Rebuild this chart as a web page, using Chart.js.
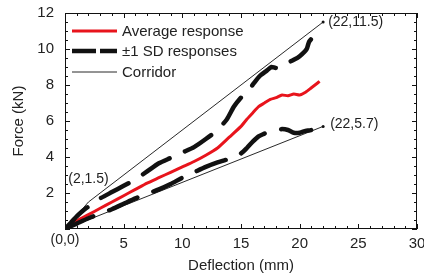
<!DOCTYPE html>
<html>
<head>
<meta charset="utf-8">
<script src="https://cdn.jsdelivr.net/npm/chart.js@4/dist/chart.umd.min.js"></script>
<style>
html,body{margin:0;padding:0;background:#fff;}
#wrap{width:424px;height:277px;position:relative;}
</style>
</head>
<body>
<div id="wrap"><canvas id="c" width="424" height="277"></canvas></div>
<script>
// ---- data ----
const avgX = [0,1,2,3,4,5,6,7,8,9,10,11,12,13,14,15,15.5,16,16.5,17,17.5,18,18.5,19,19.5,20,20.5,21,21.5,21.7];
const avgY = [0,0.45,0.8,1.15,1.5,1.85,2.2,2.55,2.85,3.15,3.45,3.75,4.1,4.5,5.1,5.7,6.1,6.45,6.8,7.0,7.2,7.3,7.45,7.4,7.5,7.45,7.6,7.85,8.1,8.2];

const upX = [0,0.5,1,1.5,2,2.5,3,4,5,6,7,8,9,10,11,12,13,13.8,14.4,15,15.5,16.1,16.6,17.2,17.6,18,18.5,19,19.5,20,20.6,20.8,21.2,21.6];
const upY = [0,0.35,0.7,1.0,1.25,1.45,1.7,2.05,2.4,2.75,3.2,3.65,3.95,4.25,4.55,5.0,5.5,6.1,6.8,7.3,7.6,8.1,8.5,8.8,9.0,8.95,9.2,9.25,9.4,9.6,10.0,10.4,10.7,10.9];

const loX = [0,1,2,3,4,5,6,7,8,9,10,11,12,13,14,15,15.5,16,16.5,17,17.5,18,18.5,19,19.5,20,20.5,21,21.5,22];
const loY = [0,0.3,0.6,0.85,1.1,1.4,1.7,1.95,2.2,2.5,2.85,3.15,3.45,3.7,3.9,4.2,4.5,4.85,5.15,5.3,5.45,5.5,5.55,5.5,5.35,5.35,5.45,5.5,5.65,5.85];

const corrUpX = [0,2,22];
const corrUpY = [0,1.5,11.5];
const corrLoX = [0,22];
const corrLoY = [0,5.7];

const xTicks = [5,10,15,20,25,30];
const yTicks = [2,4,6,8,10,12];
const legendLabels = ['Average response','\u00b11 SD responses','Corridor'];
const xTitle = 'Deflection (mm)';
const yTitle = 'Force (kN)';

const pts = (xs, ys) => xs.map((x,i)=>({x:x,y:ys[i]}));
const FONT = '"Liberation Sans", Arial, sans-serif';
const TXT = '#222';

const frame = {
  id:'frame',
  afterDraw(chart){
    const ctx = chart.ctx, a = chart.chartArea;
    const xs = chart.scales.x, ys = chart.scales.y;
    ctx.save();
    ctx.strokeStyle = '#111';
    ctx.lineWidth = 1;
    ctx.strokeRect(a.left+0.5, a.top+0.5, a.right-a.left-1, a.bottom-a.top-1);
    // inward ticks
    ctx.beginPath();
    for(let v=0; v<=30; v+=1){
      const p = Math.round(xs.getPixelForValue(v))+0.5;
      const L = (v%5===0)?5:3;
      ctx.moveTo(p,a.bottom); ctx.lineTo(p,a.bottom-L);
      ctx.moveTo(p,a.top); ctx.lineTo(p,a.top+L);
    }
    for(let v=0; v<=12; v+=0.5){
      const p = Math.round(ys.getPixelForValue(v))+0.5;
      const L = (v%2===0)?5:3;
      ctx.moveTo(a.left,p); ctx.lineTo(a.left+L,p);
      ctx.moveTo(a.right,p); ctx.lineTo(a.right-L,p);
    }
    ctx.stroke();
    // annotations
    ctx.fillStyle = TXT;
    ctx.font = '14px '+FONT;
    ctx.textBaseline = 'middle';
    const lbl = (x,y)=>'('+x+','+y+')';
    ctx.textAlign='left';
    ctx.fillText(lbl(corrUpX[2],corrUpY[2]), xs.getPixelForValue(corrUpX[2])+5, ys.getPixelForValue(corrUpY[2]));
    ctx.fillText(lbl(corrLoX[1],corrLoY[1]), xs.getPixelForValue(corrLoX[1])+7, ys.getPixelForValue(corrLoY[1])-2);
    ctx.textAlign='center';
    ctx.fillText(lbl(corrUpX[1],corrUpY[1]), xs.getPixelForValue(corrUpX[1]), ys.getPixelForValue(corrUpY[1])-23);
    ctx.fillText(lbl(corrUpX[0],corrUpY[0]), xs.getPixelForValue(0), ys.getPixelForValue(0)+11);
    // legend
    const lx0 = a.left+7, lx1 = a.left+52, tx = a.left+57;
    const rows = [a.top+18, a.top+38, a.top+59];
    ctx.font = '15px '+FONT;
    ctx.textAlign='left';
    ctx.strokeStyle='#e8141c'; ctx.lineWidth=3.2; ctx.setLineDash([]);
    ctx.beginPath(); ctx.moveTo(lx0,rows[0]); ctx.lineTo(lx1,rows[0]); ctx.stroke();
    ctx.strokeStyle='#111'; ctx.lineWidth=4.5; ctx.setLineDash([24,4]);
    ctx.beginPath(); ctx.moveTo(lx0,rows[1]); ctx.lineTo(lx1,rows[1]); ctx.stroke();
    ctx.setLineDash([]); ctx.lineWidth=0.9;
    ctx.beginPath(); ctx.moveTo(lx0,rows[2]); ctx.lineTo(lx1,rows[2]); ctx.stroke();
    legendLabels.forEach((t,i)=>ctx.fillText(t, tx, rows[i]+1));
    ctx.restore();
  }
};

const zeroPad = (s)=>{s.paddingTop=0;s.paddingBottom=0;s.paddingLeft=0;s.paddingRight=0;};

new Chart(document.getElementById('c'), {
  type:'scatter',
  data:{datasets:[
    {label:'Corridor upper', data:pts(corrUpX,corrUpY), showLine:true, borderColor:'#111', borderWidth:0.9, pointRadius:[0,0,1.5], pointBackgroundColor:'#111', pointBorderWidth:0},
    {label:'Corridor lower', data:pts(corrLoX,corrLoY), showLine:true, borderColor:'#111', borderWidth:0.9, pointRadius:[0,1.5], pointBackgroundColor:'#111', pointBorderWidth:0},
    {label:'SD upper', data:pts(upX,upY), showLine:true, borderColor:'#111', borderWidth:4.5, borderDash:[31,17], borderCapStyle:'round', pointRadius:0, tension:0.2},
    {label:'SD lower', data:pts(loX,loY), showLine:true, borderColor:'#111', borderWidth:4.5, borderDash:[31,17], borderCapStyle:'round', pointRadius:0, tension:0.2},
    {label:'Average', data:pts(avgX,avgY), showLine:true, borderColor:'#e8141c', borderWidth:3, pointRadius:0, tension:0.2}
  ]},
  options:{
    responsive:false, animation:false,
    layout:{padding:{left:0,right:7,top:13,bottom:0}},
    plugins:{legend:{display:false}, tooltip:{enabled:false}},
    scales:{
      x:{type:'linear', min:0, max:30,
        afterFit(s){s.height=48; zeroPad(s);},
        grid:{display:false, drawTicks:false}, border:{display:false},
        ticks:{stepSize:5, padding:6, color:TXT, font:{family:FONT,size:15},
          callback:(v)=> xTicks.includes(v)? String(v):''},
        title:{display:true, text:xTitle, color:TXT, font:{family:FONT,size:15}, padding:{top:0,bottom:2}}
      },
      y:{type:'linear', min:0, max:12,
        afterFit(s){s.width=65; zeroPad(s);},
        grid:{display:false, drawTicks:false}, border:{display:false},
        ticks:{stepSize:2, padding:11, color:TXT, font:{family:FONT,size:15},
          callback:(v)=> yTicks.includes(v)? String(v):''},
        title:{display:true, text:yTitle, color:TXT, font:{family:FONT,size:15}, padding:{top:10,bottom:0}}
      }
    }
  },
  plugins:[frame]
});
</script>
</body>
</html>
